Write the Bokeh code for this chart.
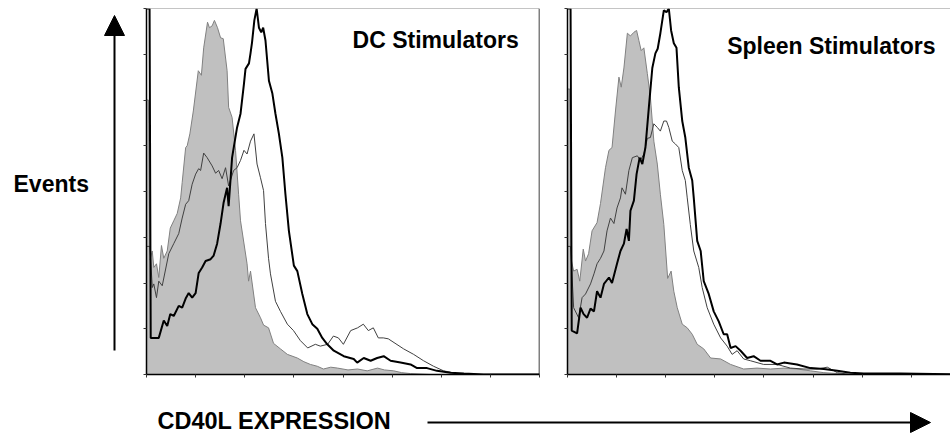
from bokeh.plotting import figure
from bokeh.layouts import row, column
from bokeh.models import Range1d, FixedTicker, Span, Label, Arrow, NormalHead
from bokeh.embed import file_html
from bokeh.resources import INLINE

# ---------------- data (channel 0..1024, events 0..400) ----------------
x_ticks = [0, 128, 256, 384, 512, 640, 768, 896, 1024]
y_ticks = [0, 50, 100, 150, 200, 250, 300, 350, 400]

panel_titles = ["DC Stimulators", "Spleen Stimulators"]

# DC stimulators: control (filled), thin line, thick line
dc_ctrl_x = [0, 5, 9, 15, 19, 26, 32, 39, 45, 54, 62, 71, 80, 89, 93, 102, 106, 113, 122, 135,
             143, 149, 159, 164, 171, 177, 185, 193, 200, 210, 214, 223, 232, 240, 245, 262, 266,
             271, 284, 297, 305, 318, 331, 349, 367, 393, 410, 427, 445, 461, 480, 498, 525, 550,
             575, 602, 620, 644, 665, 688, 740, 1024]
dc_ctrl_y = [300, 300, 125, 135, 117, 121, 106, 141, 127, 135, 160, 168, 176, 193, 210, 248, 250,
             263, 288, 332, 327, 357, 385, 379, 381, 387, 379, 368, 367, 332, 292, 281, 245, 197,
             168, 121, 102, 113, 73, 62, 54, 51, 34, 28, 22, 18, 14, 11, 9, 6, 8, 7, 5, 6, 4, 7, 5,
             4, 2, 1, 0, 0]

dc_thin_x = [0, 4, 9, 15, 19, 26, 32, 41, 58, 71, 84, 93, 102, 110, 119, 128, 136, 141, 149, 158,
             171, 180, 188, 197, 206, 214, 227, 236, 245, 254, 262, 271, 280, 288, 297, 305, 310,
             318, 323, 336, 349, 367, 383, 401, 420, 440, 453, 472, 487, 500, 513, 532, 550, 565,
             578, 591, 604, 617, 630, 670, 696, 722, 748, 774, 810, 862, 1024]
dc_thin_y = [140, 140, 140, 95, 99, 84, 102, 97, 132, 143, 154, 171, 186, 190, 208, 219, 225, 223,
             242, 237, 228, 220, 223, 214, 226, 206, 223, 226, 234, 245, 241, 255, 263, 230, 215,
             201, 165, 127, 110, 80, 69, 55, 48, 37, 29, 33, 31, 33, 42, 40, 33, 48, 51, 55, 48,
             51, 40, 40, 39, 28, 22, 15, 9, 4, 1, 0, 0]

dc_thick_x = [0, 8, 11, 15, 32, 45, 54, 62, 71, 84, 93, 102, 110, 119, 128, 136, 145, 154, 167,
              175, 184, 193, 201, 210, 214, 223, 236, 245, 254, 258, 267, 271, 275, 281, 287, 293,
              299, 304, 310, 319, 328, 336, 345, 354, 362, 371, 384, 393, 406, 419, 432, 445, 458,
              471, 488, 514, 540, 549, 566, 584, 601, 618, 636, 662, 688, 705, 731, 757, 792, 827,
              878, 1024]
dc_thick_y = [400, 400, 40, 40, 40, 59, 53, 66, 64, 75, 73, 83, 89, 84, 89, 111, 117, 124, 126,
              130, 143, 165, 188, 204, 184, 237, 270, 285, 318, 334, 340, 351, 363, 387, 400, 379,
              374, 379, 365, 321, 307, 285, 263, 237, 197, 157, 119, 113, 88, 66, 55, 50, 40, 33,
              26, 20, 17, 13, 18, 15, 18, 20, 15, 13, 11, 7, 7, 4, 2, 1, 0, 0]

# Spleen stimulators
sp_ctrl_x = [0, 6, 10, 16, 25, 32, 41, 47, 55, 64, 77, 86, 99, 108, 116, 125, 134, 140, 147, 156,
             164, 173, 180, 186, 192, 199, 208, 216, 225, 234, 242, 251, 261, 270, 277, 286, 299,
             312, 325, 338, 355, 373, 399, 425, 459, 494, 529, 564, 598, 633, 668, 703, 737, 1024]
sp_ctrl_y = [312, 312, 125, 113, 115, 102, 137, 124, 132, 157, 166, 187, 226, 245, 248, 288, 325,
             314, 335, 373, 370, 374, 376, 365, 354, 357, 329, 303, 255, 230, 197, 164, 105, 113,
             91, 73, 55, 51, 44, 33, 28, 18, 17, 11, 6, 7, 6, 7, 6, 4, 2, 1, 0, 0]

sp_thin_x = [0, 8, 16, 29, 38, 47, 60, 69, 77, 86, 95, 103, 112, 121, 129, 138, 142, 151, 160,
             169, 182, 190, 199, 208, 216, 225, 234, 242, 251, 258, 264, 273, 281, 290, 299, 307,
             312, 320, 329, 342, 351, 364, 381, 399, 416, 429, 442, 459, 477, 511, 546, 581, 616,
             651, 677, 703, 737, 1024]
sp_thin_y = [140, 140, 73, 62, 84, 88, 99, 110, 121, 127, 135, 157, 171, 165, 182, 193, 204, 197,
             223, 237, 239, 234, 241, 258, 259, 274, 270, 266, 277, 277, 270, 255, 252, 248, 223,
             212, 193, 164, 135, 117, 95, 73, 55, 40, 31, 22, 26, 17, 15, 11, 11, 7, 6, 6, 8, 2,
             0, 0]

sp_thick_x = [0, 8, 11, 25, 34, 42, 51, 60, 69, 77, 86, 95, 108, 116, 129, 138, 147, 154, 160,
              164, 173, 180, 188, 195, 203, 212, 221, 229, 235, 242, 251, 258, 264, 270, 277, 284,
              290, 299, 307, 316, 325, 329, 338, 347, 355, 368, 381, 394, 407, 416, 425, 438, 451,
              468, 485, 503, 529, 546, 564, 598, 633, 668, 703, 737, 772, 823, 868, 1024]
sp_thick_y = [400, 400, 48, 45, 73, 66, 62, 72, 69, 91, 84, 99, 106, 100, 121, 135, 143, 159, 146,
              179, 190, 219, 237, 230, 248, 292, 335, 351, 356, 373, 398, 396, 400, 376, 362, 357,
              314, 277, 259, 226, 212, 193, 146, 135, 102, 88, 69, 58, 44, 44, 29, 31, 26, 18, 20,
              15, 15, 11, 13, 11, 7, 6, 4, 2, 1, 1, 1, 0]

FONT = "Liberation Sans"
FILL = "#c0c0c0"
FILL_EDGE = "#808080"
THIN = "#404040"
TOP_B, BOT_B = 8, 20


def make_panel(width, border_right, x_end, title, tx, ty, ctrl, thin, thick, right_border):
    p = figure(width=width, height=394, x_range=Range1d(0, x_end), y_range=Range1d(0, 400),
               output_backend="svg", toolbar_location=None,
               min_border_left=10, min_border_right=border_right,
               min_border_top=TOP_B, min_border_bottom=BOT_B)
    p.grid.visible = False
    p.outline_line_color = None
    for ax, ticks in ((p.xaxis, x_ticks), (p.yaxis, y_ticks)):
        ax.ticker = FixedTicker(ticks=ticks)
        ax.major_label_overrides = {t: "" for t in ticks}
        ax.major_tick_out = 3
        ax.major_tick_in = 0
        ax.minor_tick_out = 0
        ax.minor_tick_in = 0
        ax.major_label_text_font_size = "6px"
        ax.major_label_standoff = 0
        ax.axis_line_color = "black"
        ax.axis_line_width = 1.5
        ax.major_tick_line_color = "#333333"
    p.varea(x=ctrl[0], y1=0, y2=ctrl[1], fill_color=FILL)
    p.line(ctrl[0], ctrl[1], line_color=FILL_EDGE, line_width=1)
    p.line(thin[0], thin[1], line_color=THIN, line_width=1)
    p.line(thick[0], thick[1], line_color="black", line_width=2)
    p.add_layout(Span(location=400, dimension="width", line_color="#8a8a8a", line_width=1))
    if right_border:
        p.add_layout(Span(location=1024, dimension="height", line_color="black", line_width=1.5))
    p.add_layout(Label(x=tx, y=ty, text=title, text_font=FONT, text_font_style="bold",
                       text_font_size="23px", text_color="black",
                       text_baseline="middle", text_align="left"))
    return p


p1 = make_panel(421, 18, 1024, panel_titles[0], 537, 366,
                (dc_ctrl_x, dc_ctrl_y), (dc_thin_x, dc_thin_y), (dc_thick_x, dc_thick_y), True)
p2 = make_panel(393, 0, 998, panel_titles[1], 416, 359,
                (sp_ctrl_x, sp_ctrl_y), (sp_thin_x, sp_thin_y), (sp_thick_x, sp_thick_y), False)

# left decoration: "Events" with upward arrow (window pixel coordinates)
deco = figure(width=136, height=394, x_range=Range1d(0, 136), y_range=Range1d(374, 8),
              output_backend="svg", toolbar_location=None, x_axis_type=None, y_axis_type=None,
              min_border_left=0, min_border_right=0, min_border_top=TOP_B, min_border_bottom=BOT_B)
deco.grid.visible = False
deco.outline_line_color = None
deco.add_layout(Arrow(end=NormalHead(size=20, fill_color="black", line_color="black", line_width=1),
                      x_start=114, y_start=350, x_end=114, y_end=15,
                      line_color="black", line_width=2))
deco.add_layout(Label(x=13, y=183, text="Events", text_font=FONT, text_font_style="bold",
                      text_font_size="23px", text_color="black",
                      text_baseline="middle", text_align="left"))

# bottom decoration: axis title with rightward arrow
bottom = figure(width=950, height=40, x_range=Range1d(0, 950), y_range=Range1d(434, 394),
                output_backend="svg", toolbar_location=None, x_axis_type=None, y_axis_type=None,
                min_border=0)
bottom.grid.visible = False
bottom.outline_line_color = None
bottom.add_layout(Label(x=157, y=420, text="CD40L EXPRESSION", text_font=FONT,
                        text_font_style="bold", text_font_size="23.5px", text_color="black",
                        text_baseline="middle", text_align="left"))
bottom.add_layout(Arrow(end=NormalHead(size=20, fill_color="black", line_color="black", line_width=1),
                        x_start=427, y_start=422, x_end=930, y_end=422,
                        line_color="black", line_width=2))

layout = column(row(deco, p1, p2), bottom)

with open("out.html", "w") as f:
    f.write(file_html(layout, INLINE))
